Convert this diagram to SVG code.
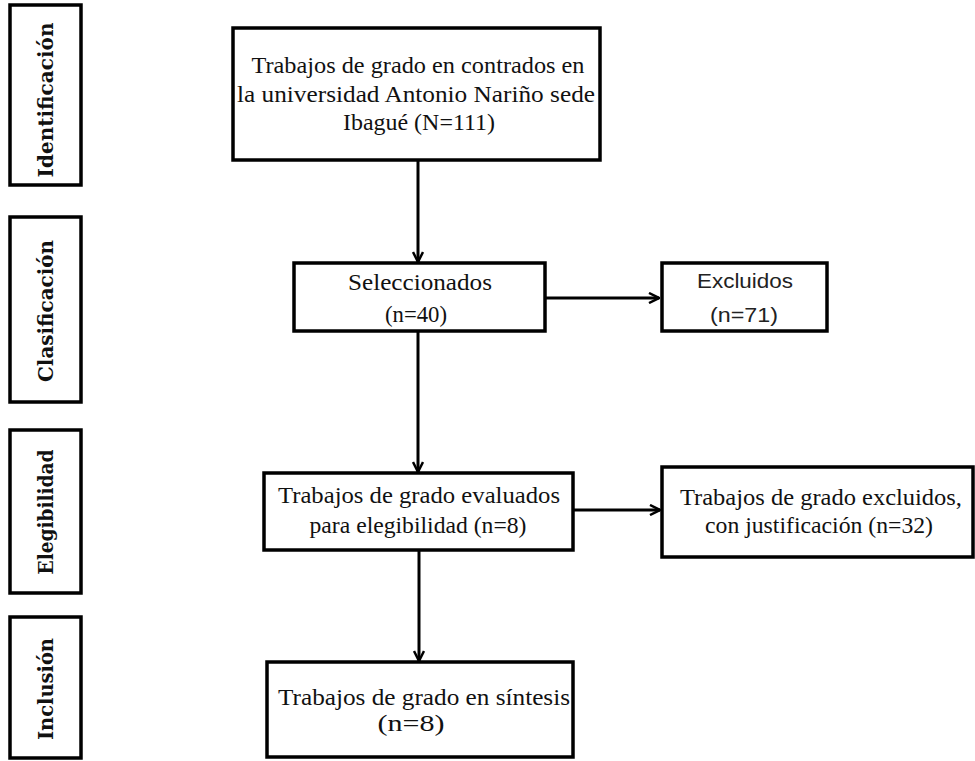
<svg xmlns="http://www.w3.org/2000/svg" width="975" height="761" viewBox="0 0 975 761">
<style>
.box{fill:#fff;stroke:#000;stroke-width:3.5}
.side{fill:#fff;stroke:#000;stroke-width:3.5}
.t{font-family:"Liberation Serif","Times New Roman",serif;font-size:24px;fill:#111;text-anchor:middle}
.s{font-family:"Liberation Sans",Arial,sans-serif;font-size:21px;fill:#222;text-anchor:middle}
.lab{font-family:"DejaVu Serif",serif;font-weight:bold;font-size:20px;fill:#111;text-anchor:middle}
.c{stroke:#000;stroke-width:3;fill:none;marker-end:url(#ah)}
</style>
<defs>
<marker id="ah" viewBox="0 0 12 12" refX="11" refY="6" markerWidth="12" markerHeight="12" markerUnits="userSpaceOnUse" orient="auto">
<path d="M1,1 L11,6 L1,11" fill="none" stroke="#000" stroke-width="2.5"/>
</marker>
</defs>
<rect width="975" height="761" fill="#fff"/>
<g id="side-identificacion"><rect class="side" x="10" y="5" width="71" height="180"/><text class="lab" transform="translate(53,100) rotate(-90)" textLength="155" lengthAdjust="spacingAndGlyphs">Identificación</text></g>
<g id="side-clasificacion"><rect class="side" x="10" y="217" width="71" height="185"/><text class="lab" transform="translate(53,311) rotate(-90)" textLength="142" lengthAdjust="spacingAndGlyphs">Clasificación</text></g>
<g id="side-elegibilidad"><rect class="side" x="10" y="430" width="71" height="163"/><text class="lab" transform="translate(53,512) rotate(-90)" textLength="125" lengthAdjust="spacingAndGlyphs">Elegibilidad</text></g>
<g id="side-inclusion"><rect class="side" x="10" y="617" width="71" height="141"/><text class="lab" transform="translate(53,689) rotate(-90)" textLength="102" lengthAdjust="spacingAndGlyphs">Inclusión</text></g>
<g id="connectors">
<line class="c" x1="418" y1="160" x2="418" y2="262"/>
<line class="c" x1="545" y1="298" x2="659" y2="298"/>
<line class="c" x1="418" y1="331" x2="418" y2="472"/>
<line class="c" x1="573" y1="510" x2="660" y2="510"/>
<line class="c" x1="419" y1="550" x2="419" y2="661"/>
</g>
<g id="n1"><rect class="box" x="233" y="28" width="367" height="132"/>
<text class="t" x="418" y="73" textLength="333" lengthAdjust="spacingAndGlyphs">Trabajos de grado en contrados en</text>
<text class="t" x="416" y="102" textLength="358" lengthAdjust="spacingAndGlyphs">la universidad Antonio Nariño sede</text>
<text class="t" x="419" y="130" textLength="152" lengthAdjust="spacingAndGlyphs">Ibagué (N=111)</text></g>
<g id="n2"><rect class="box" x="294" y="263" width="251" height="68"/>
<text class="t" x="420" y="290" textLength="144" lengthAdjust="spacingAndGlyphs">Seleccionados</text>
<text class="t" x="416" y="322" textLength="62" lengthAdjust="spacingAndGlyphs">(n=40)</text></g>
<g id="n3"><rect class="box" x="662" y="263" width="165" height="68"/>
<text class="s" x="745" y="288" textLength="96" lengthAdjust="spacingAndGlyphs">Excluidos</text>
<text class="s" x="744" y="322" textLength="68" lengthAdjust="spacingAndGlyphs">(n=71)</text></g>
<g id="n4"><rect class="box" x="264" y="473" width="309" height="77"/>
<text class="t" x="419" y="503" textLength="282" lengthAdjust="spacingAndGlyphs">Trabajos de grado evaluados</text>
<text class="t" x="418" y="533" textLength="217" lengthAdjust="spacingAndGlyphs">para elegibilidad (n=8)</text></g>
<g id="n5"><rect class="box" x="662" y="467" width="311" height="90"/>
<text class="t" x="821" y="505" textLength="282" lengthAdjust="spacingAndGlyphs">Trabajos de grado excluidos,</text>
<text class="t" x="819" y="533" textLength="228" lengthAdjust="spacingAndGlyphs">con justificación (n=32)</text></g>
<g id="n6"><rect class="box" x="267" y="662" width="306" height="95"/>
<text class="t" x="424" y="705" textLength="292" lengthAdjust="spacingAndGlyphs">Trabajos de grado en síntesis</text>
<text class="t" x="411" y="731" textLength="67" lengthAdjust="spacingAndGlyphs">(n=8)</text></g>
</svg>
